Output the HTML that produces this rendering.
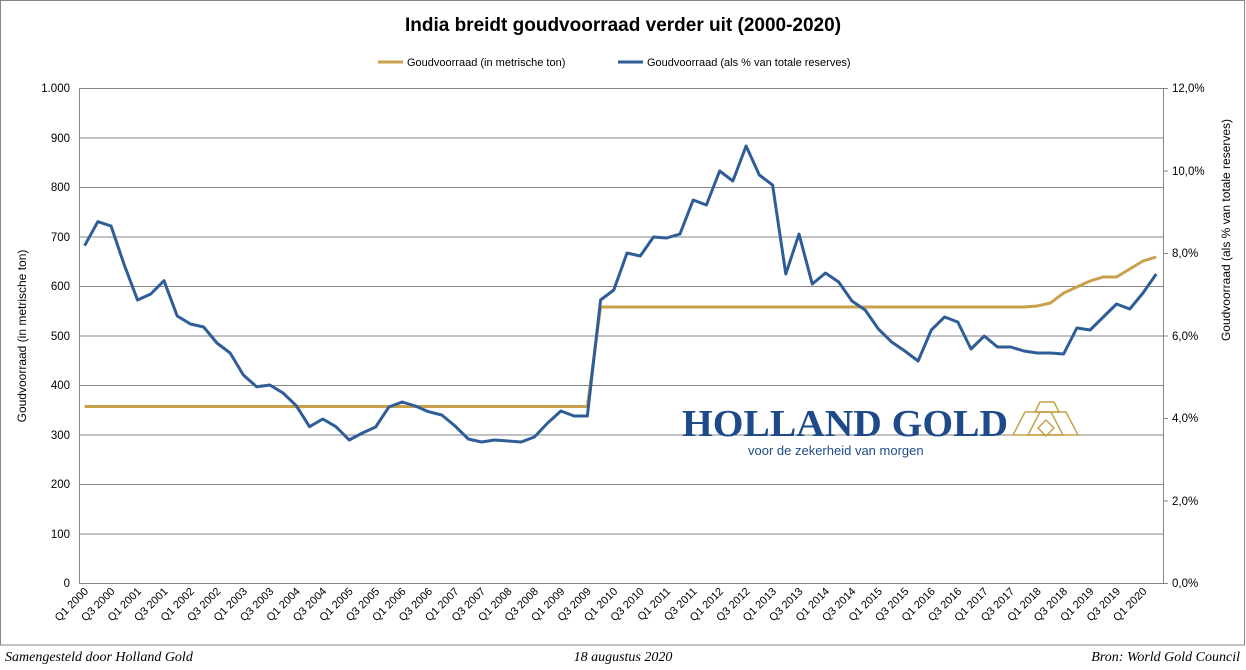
<!DOCTYPE html>
<html><head><meta charset="utf-8"><style>
body{margin:0;background:#fff;}
svg{display:block;font-family:"Liberation Sans",Arial,sans-serif;}
</style></head><body>
<svg width="1246" height="670" viewBox="0 0 1246 670" xmlns="http://www.w3.org/2000/svg">
<rect x="0.5" y="0.5" width="1244" height="644.5" fill="#fff" stroke="#868686"/>
<text x="623" y="31" text-anchor="middle" font-size="19" font-weight="bold" fill="#000">India breidt goudvoorraad verder uit (2000-2020)</text>
<line x1="378" y1="62" x2="403" y2="62" stroke="#C9A04C" stroke-width="3"/>
<text x="407" y="66" font-size="11" fill="#000">Goudvoorraad (in metrische ton)</text>
<line x1="618" y1="62" x2="643" y2="62" stroke="#2F5D97" stroke-width="3"/>
<text x="647" y="66" font-size="11" fill="#000">Goudvoorraad (als % van totale reserves)</text>
<g stroke="#868686" stroke-width="1">
<line x1="79" y1="88.5" x2="1163" y2="88.5"/>
<line x1="79" y1="138" x2="1163" y2="138"/>
<line x1="79" y1="187.5" x2="1163" y2="187.5"/>
<line x1="79" y1="237" x2="1163" y2="237"/>
<line x1="79" y1="286.5" x2="1163" y2="286.5"/>
<line x1="79" y1="336" x2="1163" y2="336"/>
<line x1="79" y1="385.5" x2="1163" y2="385.5"/>
<line x1="79" y1="435" x2="1163" y2="435"/>
<line x1="79" y1="484.5" x2="1163" y2="484.5"/>
<line x1="79" y1="534" x2="1163" y2="534"/>
<line x1="79" y1="583.5" x2="1163" y2="583.5"/>
<line x1="79.5" y1="88" x2="79.5" y2="584"/>
<line x1="1163.5" y1="88" x2="1163.5" y2="584"/>
<line x1="1163" y1="88.5" x2="1168" y2="88.5"/><line x1="1163" y1="171" x2="1168" y2="171"/><line x1="1163" y1="253.5" x2="1168" y2="253.5"/><line x1="1163" y1="336" x2="1168" y2="336"/><line x1="1163" y1="418.5" x2="1168" y2="418.5"/><line x1="1163" y1="501" x2="1168" y2="501"/><line x1="1163" y1="583.5" x2="1168" y2="583.5"/>
</g>
<g font-size="11.5" fill="#000" text-anchor="end">
<text x="70" y="92">1.000</text><text x="70" y="142">900</text><text x="70" y="191">800</text><text x="70" y="241">700</text><text x="70" y="290">600</text><text x="70" y="340">500</text><text x="70" y="389">400</text><text x="70" y="439">300</text><text x="70" y="488">200</text><text x="70" y="538">100</text><text x="70" y="587">0</text>
</g>
<g font-size="11.5" fill="#000">
<text x="1172" y="92">12,0%</text><text x="1172" y="175">10,0%</text><text x="1172" y="257">8,0%</text><text x="1172" y="340">6,0%</text><text x="1172" y="422">4,0%</text><text x="1172" y="505">2,0%</text><text x="1172" y="587">0,0%</text>
</g>
<text transform="translate(26,336) rotate(-90)" text-anchor="middle" font-size="12" fill="#000">Goudvoorraad (in metrische ton)</text>
<text transform="translate(1230,230) rotate(-90)" text-anchor="middle" font-size="12" fill="#000">Goudvoorraad (als % van totale reserves)</text>
<!-- logo -->
<text x="682" y="436" font-family="Liberation Serif,serif" font-weight="bold" font-size="38" fill="#1F4A8A" textLength="326" lengthAdjust="spacingAndGlyphs">HOLLAND GOLD</text>
<text x="748" y="455" font-size="13" fill="#1F4A8A">voor de zekerheid van morgen</text>
<g fill="none" stroke="#C9A04C" stroke-width="1.5">
<polygon points="1013,435 1025,412 1051,412 1063,435"/>
<polygon points="1028,435 1040,412 1066,412 1078,435"/>
<polygon points="1035,412 1040,402 1054,402 1059,412"/>
<polygon points="1038,428 1046,420 1054,428 1046,436"/>
</g>
<g transform="translate(84.6,0) scale(13.23,1)">
<polyline fill="none" stroke="#C9A04C" stroke-width="3" vector-effect="non-scaling-stroke" points="0,406.5 38,406.5 39,307 71,307 72,306 73,303 74,293 75,287 76,281 77,277 78,277 79,269 80,261 81,257"/>
<polyline fill="none" stroke="#2F5D97" stroke-width="3" stroke-linejoin="round" vector-effect="non-scaling-stroke" points="0,245.7 1,221.7 2,226 3,265 4,300 5,294 6,280.7 7,316 8,324 9,327 10,343 11,353 12,375 13,386.7 14,385 15,393 16,405.7 17,426.7 18,419 19,426.7 20,440 21,433 22,427 23,407 24,402 25,406 26,411.7 27,415 28,426 29,439 30,442 31,440 32,441 33,442 34,437 35,423 36,411 37,416 38,416 39,300 40,290 41,253 42,256 43,237 44,238 45,234 46,200 47,205 48,171 49,181 50,146 51,175 52,185 53,274 54,234 55,284 56,273 57,282 58,301 59,310 60,329 61,342 62,351 63,361 64,330 65,317 66,322 67,349 68,336 69,347 70,347 71,351 72,353 73,353 74,354 75,328 76,330 77,317 78,304 79,309 80,293 81,274"/>
</g>
<g font-size="11" fill="#000" text-anchor="end">
<text transform="translate(89,592) rotate(-45)">Q1 2000</text>
<text transform="translate(115.5,592) rotate(-45)">Q3 2000</text>
<text transform="translate(141.9,592) rotate(-45)">Q1 2001</text>
<text transform="translate(168.4,592) rotate(-45)">Q3 2001</text>
<text transform="translate(194.8,592) rotate(-45)">Q1 2002</text>
<text transform="translate(221.3,592) rotate(-45)">Q3 2002</text>
<text transform="translate(247.8,592) rotate(-45)">Q1 2003</text>
<text transform="translate(274.2,592) rotate(-45)">Q3 2003</text>
<text transform="translate(300.7,592) rotate(-45)">Q1 2004</text>
<text transform="translate(327.1,592) rotate(-45)">Q3 2004</text>
<text transform="translate(353.6,592) rotate(-45)">Q1 2005</text>
<text transform="translate(380.1,592) rotate(-45)">Q3 2005</text>
<text transform="translate(406.5,592) rotate(-45)">Q1 2006</text>
<text transform="translate(433,592) rotate(-45)">Q3 2006</text>
<text transform="translate(459.4,592) rotate(-45)">Q1 2007</text>
<text transform="translate(485.9,592) rotate(-45)">Q3 2007</text>
<text transform="translate(512.4,592) rotate(-45)">Q1 2008</text>
<text transform="translate(538.8,592) rotate(-45)">Q3 2008</text>
<text transform="translate(565.3,592) rotate(-45)">Q1 2009</text>
<text transform="translate(591.7,592) rotate(-45)">Q3 2009</text>
<text transform="translate(618.2,592) rotate(-45)">Q1 2010</text>
<text transform="translate(644.7,592) rotate(-45)">Q3 2010</text>
<text transform="translate(671.1,592) rotate(-45)">Q1 2011</text>
<text transform="translate(697.6,592) rotate(-45)">Q3 2011</text>
<text transform="translate(724,592) rotate(-45)">Q1 2012</text>
<text transform="translate(750.5,592) rotate(-45)">Q3 2012</text>
<text transform="translate(777,592) rotate(-45)">Q1 2013</text>
<text transform="translate(803.4,592) rotate(-45)">Q3 2013</text>
<text transform="translate(829.9,592) rotate(-45)">Q1 2014</text>
<text transform="translate(856.3,592) rotate(-45)">Q3 2014</text>
<text transform="translate(882.8,592) rotate(-45)">Q1 2015</text>
<text transform="translate(909.3,592) rotate(-45)">Q3 2015</text>
<text transform="translate(935.7,592) rotate(-45)">Q1 2016</text>
<text transform="translate(962.2,592) rotate(-45)">Q3 2016</text>
<text transform="translate(988.6,592) rotate(-45)">Q1 2017</text>
<text transform="translate(1015.1,592) rotate(-45)">Q3 2017</text>
<text transform="translate(1041.6,592) rotate(-45)">Q1 2018</text>
<text transform="translate(1068,592) rotate(-45)">Q3 2018</text>
<text transform="translate(1094.5,592) rotate(-45)">Q1 2019</text>
<text transform="translate(1120.9,592) rotate(-45)">Q3 2019</text>
<text transform="translate(1147.4,592) rotate(-45)">Q1 2020</text>
</g>
<g font-family="Liberation Serif,serif" font-style="italic" font-size="14" fill="#000">
<text x="5" y="661">Samengesteld door Holland Gold</text>
<text x="623" y="661" text-anchor="middle">18 augustus 2020</text>
<text x="1240" y="661" text-anchor="end">Bron: World Gold Council</text>
</g>
</svg>
</body></html>
